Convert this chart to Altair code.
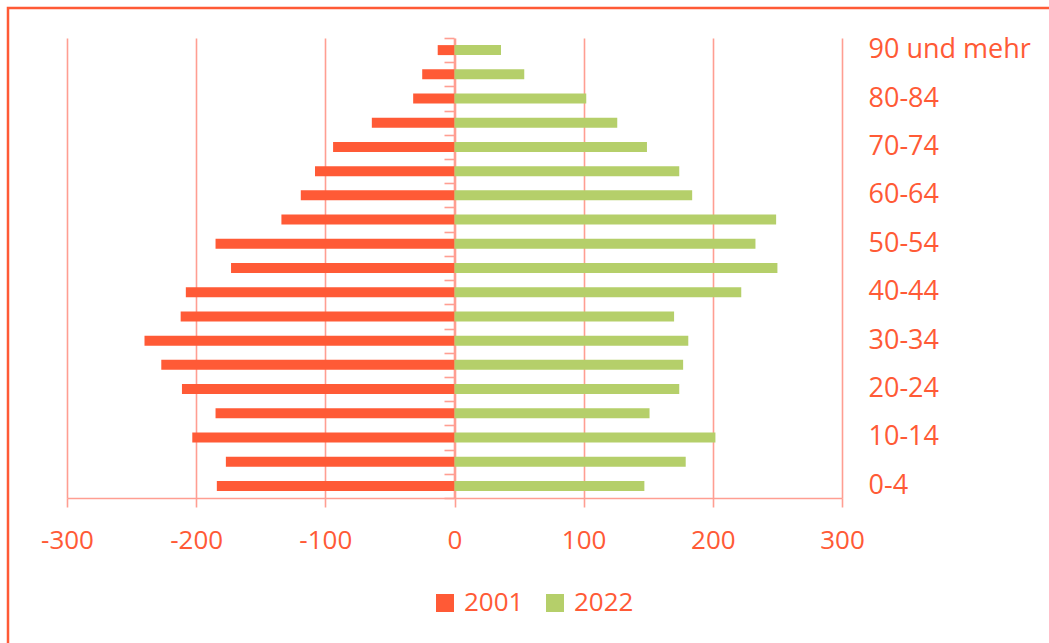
import altair as alt
import pandas as pd

ages = ["0-4", "5-9", "10-14", "15-19", "20-24", "25-29", "30-34", "35-39",
        "40-44", "45-49", "50-54", "55-59", "60-64", "65-69", "70-74",
        "75-79", "80-84", "85-89", "90 und mehr"]
v2001 = [184, 177, 203, 185, 211, 227, 240, 212, 208, 173, 185, 134, 119,
         108, 94, 64, 32, 25, 13]
v2022 = [147, 179, 202, 151, 174, 177, 181, 170, 222, 250, 233, 249, 184,
         174, 149, 126, 102, 54, 36]
years = ["2001", "2022"]
shown_labels = ["0-4", "10-14", "20-24", "30-34", "40-44", "50-54", "60-64",
                "70-74", "80-84", "90 und mehr"]
x_ticks = [-300, -200, -100, 0, 100, 200, 300]

ORANGE = "#FF5A36"
GREEN = "#B5CF6A"
GRID = "#FF9E92"
FONT = "Open Sans"

rows = []
for a, v in zip(ages, v2001):
    rows.append({"Alter": a, "Jahr": "2001", "Wert": -v})
for a, v in zip(ages, v2022):
    rows.append({"Alter": a, "Jahr": "2022", "Wert": v})
df = pd.DataFrame(rows)

order = list(reversed(ages))
yscale = alt.Scale(domain=order, paddingInner=0, paddingOuter=0)
xscale = alt.Scale(domain=[-300, 300], nice=False)

bars = alt.Chart(df).mark_bar(size=10).encode(
    x=alt.X("Wert:Q", scale=xscale, stack=None, title=None,
            axis=alt.Axis(values=x_ticks, grid=True, gridColor=GRID, gridWidth=1.6,
                          domainColor=GRID, domainWidth=1.6, tickColor=GRID,
                          tickWidth=1.6, tickSize=9, labelColor=ORANGE,
                          labelFont=FONT, labelFontSize=26, labelPadding=33,
                          labelBaseline="middle", labelFlush=False,
                          labelExpr="'' + datum.value")),
    y=alt.Y("Alter:N", scale=yscale, sort=order, title=None,
            axis=alt.Axis(orient="right", values=shown_labels, domain=False,
                          ticks=False, grid=False, labelColor=ORANGE,
                          labelFont=FONT, labelFontSize=27, labelPadding=26,
                          labelAlign="left", labelBaseline="middle")),
    color=alt.Color("Jahr:N", scale=alt.Scale(domain=years, range=[ORANGE, GREEN]),
                    legend=alt.Legend(title=None, orient="none", direction="horizontal",
                                      legendX=365, legendY=552, symbolType="square",
                                      symbolSize=324, symbolStrokeWidth=0,
                                      labelFont=FONT, labelFontSize=26,
                                      labelColor=ORANGE, labelOffset=6,
                                      columnPadding=18, padding=0)),
)

zero_axis = alt.Chart(df).mark_bar(opacity=0).encode(
    x=alt.X("Wert:Q", scale=xscale, stack=None, title=None),
    y=alt.Y("Alter:N", scale=yscale, sort=order, title=None,
            axis=alt.Axis(orient="left", offset=-387, labels=False, grid=False,
                          domainColor=GRID, domainWidth=1.6, tickColor=GRID,
                          tickWidth=1.6, tickSize=10, tickBand="extent")),
)

border = alt.Chart(alt.Data(values=[{}])).mark_rect(
    filled=False, stroke=ORANGE, strokeWidth=2.5
).encode(
    x=alt.value(-59), x2=alt.value(1100), y=alt.value(-30), y2=alt.value(700)
)

chart = alt.layer(bars, zero_axis, border).resolve_axis(y="independent").properties(
    width=775, height=460,
    autosize=alt.AutoSizeParams(type="none"),
    padding={"left": 67, "top": 38, "right": 207, "bottom": 145},
    background="white",
).configure_view(stroke=None)

chart.save("out.html", embed_options={"renderer": "svg", "actions": False})
